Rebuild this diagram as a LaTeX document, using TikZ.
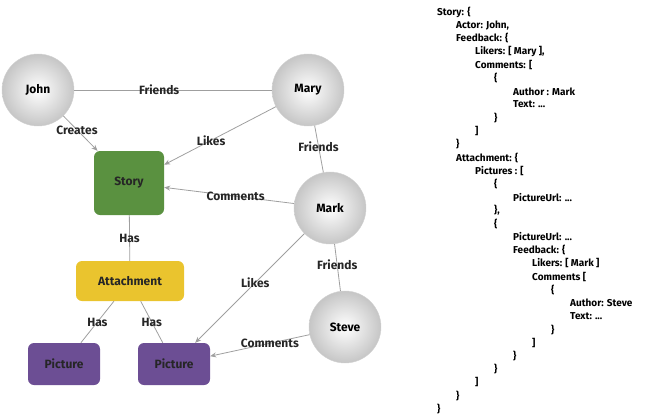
\documentclass[tikz,border=0pt]{standalone}
\usepackage{fontspec}
\setmainfont{Fira Sans}
\usetikzlibrary{arrows.meta}
\begin{document}
\begin{tikzpicture}[x=1pt,y=-1pt,
  person/.style={circle,minimum size=72pt,inner sep=0pt,shading=radial,inner color=white,outer color=gray!45,draw=gray!35,font=\bfseries\fontsize{12}{14}\selectfont},
  box/.style={rounded corners=6pt,inner sep=0pt,font=\bfseries\fontsize{12}{14}\selectfont,text=black!85},
  edge/.style={draw=gray!75,line width=0.8pt},
  arr/.style={edge,-{Stealth[length=6pt,width=5pt]}},
  lab/.style={font=\bfseries\fontsize{12}{14}\selectfont,text=black!85},
  code/.style={anchor=west,font=\bfseries\fontsize{10}{12}\selectfont,inner sep=0pt}]
\useasboundingbox (0,0) rectangle (648,418);
\node[person] (john) at (38,90) {John};
\node[person] (mary) at (308,90) {Mary};
\node[person] (mark) at (330,208) {Mark};
\node[person] (steve) at (345,327) {Steve};
\node[box,fill={rgb,255:red,90;green,145;blue,64},minimum width=70pt,minimum height=64pt] (story) at (129,183) {Story};
\node[box,fill={rgb,255:red,234;green,196;blue,46},minimum width=108pt,minimum height=40pt] (att) at (130,281) {Attachment};
\node[box,fill={rgb,255:red,108;green,78;blue,148},minimum width=72pt,minimum height=42pt] (p1) at (64,364) {Picture};
\node[box,fill={rgb,255:red,108;green,78;blue,148},minimum width=72pt,minimum height=42pt] (p2) at (174,364) {Picture};
\draw[edge] (john) -- node[lab,pos=0.43] {Friends} (mary);
\draw[arr] (john) -- node[lab,pos=0.4] {Creates} (story);
\draw[arr] (mary) -- node[lab,pos=0.58] {Likes} (story);
\draw[edge] (mary) -- node[lab,pos=0.45] {Friends} (mark);
\draw[arr] (mark) -- node[lab,pos=0.45] {Comments} (story);
\draw[edge] (story) -- node[lab] {Has} (att);
\draw[arr] (mark) -- node[lab,pos=0.45] {Likes} (p2);
\draw[edge] (mark) -- node[lab,pos=0.45] {Friends} (steve);
\draw[edge] (att) -- node[lab] {Has} (p1);
\draw[edge] (att) -- node[lab] {Has} (p2);
\draw[arr] (steve) -- node[lab,pos=0.4] {Comments} (p2);
\foreach \lv/\t [count=\i from 0] in {
0/{Story: \{},1/{Actor: John,},1/{Feedback: \{},2/{Likers: [ Mary ],},2/{Comments: [},
3/{\{},4/{Author : Mark},4/{Text: ...},3/{\}},2/{]},1/{\}},1/{Attachment: \{},
2/{Pictures : [},3/{\{},4/{PictureUrl: ...},3/{\},},3/{\{},4/{PictureUrl: ...},
4/{Feedback: \{},5/{Likers: [ Mark ]},5/{Comments [},6/{\{},7/{Author: Steve},
7/{Text: ...},6/{\}},5/{]},4/{\}},3/{\}},2/{]},1/{\}},0/{\}}}
  \node[code] (c\i) at (437+19*\lv,12+13.23*\i) {\t};
\end{tikzpicture}
\end{document}
